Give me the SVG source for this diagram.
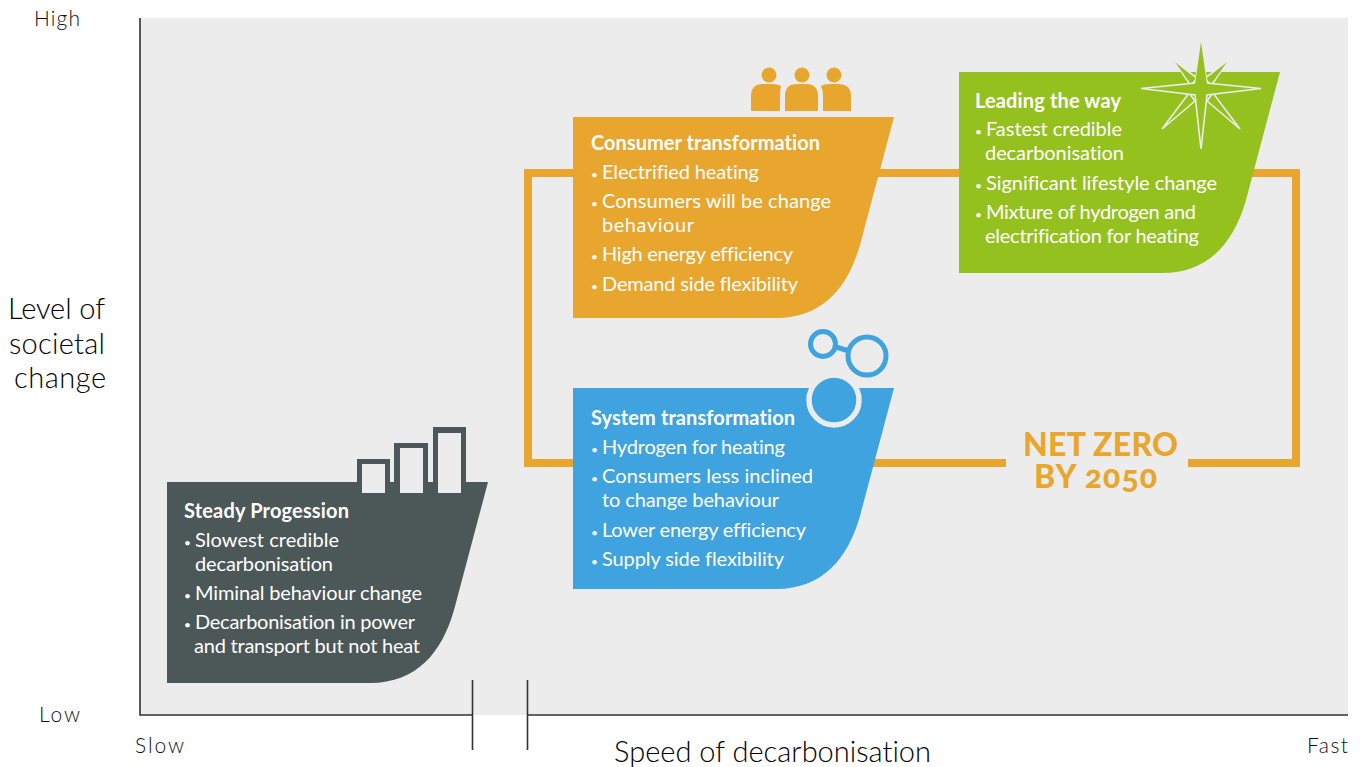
<svg xmlns="http://www.w3.org/2000/svg" width="1363" height="767" viewBox="0 0 1363 767">
<style>
text{font-family:"Lato","Open Sans",sans-serif;font-variant-ligatures:none}
.item{font-size:20px;fill:#fff}
.dot{font-size:12px}
.head{font-size:20px;fill:#fff;font-weight:700}
.ax{font-size:21px;fill:#111;font-weight:300}
.big{font-size:29px;fill:#000;font-weight:300}
.nz{font-size:32px;font-weight:900;fill:#e8a62f;font-variant-numeric:oldstyle-nums}
.link{fill:none;stroke:#e8a62f;stroke-width:8}
.axis{fill:none;stroke:#333;stroke-width:1.6}
.rays{fill:#95c11f;stroke:#ececec;stroke-width:1.6;stroke-linejoin:miter}
</style>
<defs>
<path id="blob" d="M0 0H321L287 128C275 170 250 201 203 201H0Z"/>
</defs>
<rect id="plot" x="140" y="18" width="1208" height="697" fill="#ececec"/>
<g id="axes">
<path class="axis" d="M140 18V715H472.500M527.500 715H1348"/>
<path class="axis" d="M472.500 680V750M527.500 680V750"/>
</g>
<g id="connectors">
<path class="link" d="M575 173H528V463H575"/>
<path class="link" d="M875 173H965"/>
<path class="link" d="M1250 173H1296V463H1188"/>
<path class="link" d="M1006 463H870"/>
</g>
<g id="axis-labels">
<text class="ax" x="34" y="26" textLength="46">High</text>
<text class="ax" x="39" y="722" textLength="41">Low</text>
<text class="ax" x="135" y="753" textLength="49">Slow</text>
<text class="ax" x="1307" y="753" textLength="41">Fast</text>
<text class="big" x="8" y="319" textLength="97">Level of</text>
<text class="big" x="9" y="354" textLength="96">societal</text>
<text class="big" x="14" y="388" textLength="92">change</text>
<text class="big" x="614" y="762" textLength="317">Speed of decarbonisation</text>
</g>
<g id="node-steady">
<use href="#blob" x="167" y="482" fill="#4c5858"/>
<path fill="#4c5858" d="M357 459H390V495H357ZM394 443H428V495H394ZM433 427H466V495H433Z"/>
<path fill="#ececec" d="M362 464H385V493H362ZM400 448H423V493H400ZM438 433H461V493H438Z"/>
<text class="head" x="184" y="518" textLength="165">Steady Progession</text>
<text class="item" x="184" y="547"><tspan class="dot">• </tspan><tspan x="195" textLength="144">Slowest credible</tspan></text>
<text class="item" x="195" y="571" textLength="138">decarbonisation</text>
<text class="item" x="184" y="600"><tspan class="dot">• </tspan><tspan x="195" textLength="227">Miminal behaviour change</tspan></text>
<text class="item" x="184" y="629"><tspan class="dot">• </tspan><tspan x="195" textLength="220">Decarbonisation in power</tspan></text>
<text class="item" x="194" y="653" textLength="226">and transport but not heat</text>
</g>
<g id="node-consumer">
<use href="#blob" x="573" y="117" fill="#e8a62f"/>
<circle cx="769" cy="75" r="7.500" fill="#e8a62f"/>
<circle cx="802" cy="75" r="7.500" fill="#e8a62f"/>
<circle cx="834" cy="75" r="7.500" fill="#e8a62f"/>
<path fill="#e8a62f" d="M751 111V96Q751 84 763 84H771Q778 84 781 86Q780 90 780 96V111ZM785 111V96Q785 84 797 84H806Q818 84 818 96V111ZM823 111V96Q823 90 821 86Q824 84 830 84H838Q851 84 851 96V111Z"/>
<text class="head" x="591" y="150" textLength="229">Consumer transformation</text>
<text class="item" x="591" y="179"><tspan class="dot">• </tspan><tspan x="602" textLength="157">Electrified heating</tspan></text>
<text class="item" x="591" y="208"><tspan class="dot">• </tspan><tspan x="602" textLength="229">Consumers will be change</tspan></text>
<text class="item" x="602" y="232" textLength="92">behaviour</text>
<text class="item" x="591" y="261"><tspan class="dot">• </tspan><tspan x="602" textLength="191">High energy efficiency</tspan></text>
<text class="item" x="591" y="291"><tspan class="dot">• </tspan><tspan x="602" textLength="196">Demand side flexibility</tspan></text>
</g>
<g id="node-leading">
<use href="#blob" x="959" y="72" fill="#95c11f"/>
<path class="rays" d="M1175 62L1197 78L1191 86ZM1227 62L1205 78L1211 86ZM1240 129L1213 93L1207 101ZM1162 129L1189 93L1195 101Z"/>
<path class="rays" d="M1201 42L1207 83L1261 88.500L1207 95L1201 149L1195 95L1141 88.500L1195 83Z"/>
<path fill="#95c11f" d="M1201 42L1207.500 88H1194.500ZM1175 62L1192 76L1188 80ZM1227 62L1210 76L1214 80Z"/>
<text class="head" x="975" y="108" textLength="146">Leading the way</text>
<text class="item" x="975" y="136"><tspan class="dot">• </tspan><tspan x="986" textLength="136">Fastest credible</tspan></text>
<text class="item" x="985" y="160" textLength="139">decarbonisation</text>
<text class="item" x="975" y="190"><tspan class="dot">• </tspan><tspan x="986" textLength="231">Significant lifestyle change</tspan></text>
<text class="item" x="975" y="219"><tspan class="dot">• </tspan><tspan x="986" textLength="210">Mixture of hydrogen and</tspan></text>
<text class="item" x="985" y="243" textLength="214">electrification for heating</text>
</g>
<g id="node-system">
<use href="#blob" x="573" y="388" fill="#3fa3df"/>
<circle cx="834" cy="400" r="25" fill="#3fa3df" stroke="#ececec" stroke-width="5.500"/>
<g fill="none" stroke="#3fa3df" stroke-width="5">
<circle cx="823" cy="344" r="12.500"/>
<circle cx="867" cy="356" r="19"/>
<path d="M836 347L849 351"/>
</g>
<text class="head" x="591" y="425" textLength="204">System transformation</text>
<text class="item" x="591" y="454"><tspan class="dot">• </tspan><tspan x="602" textLength="183">Hydrogen for heating</tspan></text>
<text class="item" x="591" y="483"><tspan class="dot">• </tspan><tspan x="602" textLength="211">Consumers less inclined</tspan></text>
<text class="item" x="602" y="507" textLength="177">to change behaviour</text>
<text class="item" x="591" y="537"><tspan class="dot">• </tspan><tspan x="602" textLength="204">Lower energy efficiency</tspan></text>
<text class="item" x="591" y="566"><tspan class="dot">• </tspan><tspan x="602" textLength="182">Supply side flexibility</tspan></text>
</g>
<g id="net-zero">
<text class="nz" x="1023" y="456" textLength="155">NET ZERO</text>
<text class="nz" x="1034" y="488" textLength="123">BY 2050</text>
</g>
</svg>
